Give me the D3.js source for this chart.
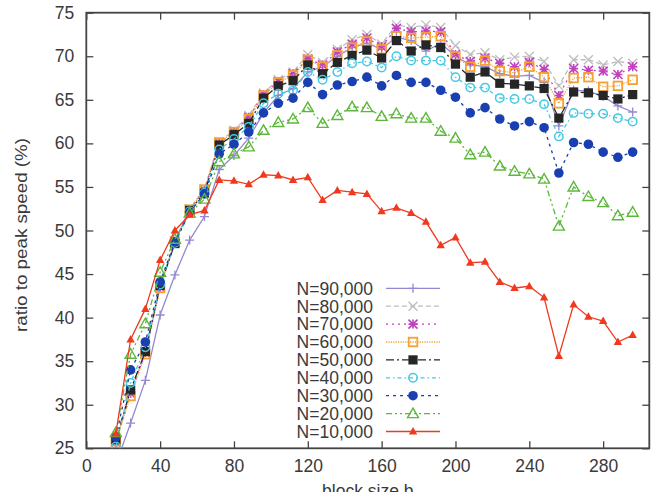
<!DOCTYPE html>
<html><head><meta charset="utf-8">
<script src="https://cdn.jsdelivr.net/npm/d3@7"></script>
<style>body{margin:0;background:#fff}svg{display:block}</style>
</head><body>
<svg id="c" width="664" height="492"></svg>
<script>
const blockSizes = [16,24,32,40,48,56,64,72,80,88,96,104,112,120,128,136,144,152,160,168,176,184,192,200,208,216,224,232,240,248,256,264,272,280,288,296];
const seriesNames = ["N=90,000","N=80,000","N=70,000","N=60,000","N=50,000","N=40,000","N=30,000","N=20,000","N=10,000"];
const n90000 = [23.1,27.9,32.8,40.3,44.9,48.9,51.6,57.0,58.6,60.6,63.5,65.5,66.3,68.2,68.8,70.0,71.0,71.5,70.8,72.2,71.8,70.6,71.5,70.0,69.0,68.8,68.0,67.7,67.8,67.0,62.0,66.1,66.0,65.4,64.3,63.6];
const n80000 = [25.8,31.5,36.0,43.6,48.8,52.5,54.8,60.2,61.5,63.2,65.8,67.3,68.2,70.2,69.3,70.8,71.9,72.5,71.4,73.6,73.3,73.6,73.3,71.2,70.2,70.4,69.6,69.9,70.0,69.4,66.6,69.6,69.6,69.0,69.4,69.2];
const n70000 = [25.7,31.3,36.0,43.5,48.7,52.4,54.6,60.0,61.3,63.0,65.6,67.1,68.0,69.7,69.0,70.5,71.4,72.1,71.1,73.2,72.8,72.9,72.8,70.2,69.4,69.8,69.2,68.8,69.3,68.5,65.5,68.6,68.4,68.3,67.9,68.8];
const n60000 = [25.8,31.0,35.8,43.4,48.7,52.4,54.7,60.1,61.3,62.8,65.5,67.0,67.8,69.6,68.8,70.1,71.0,71.7,70.8,72.3,72.1,72.2,72.3,70.0,68.8,69.5,68.3,68.1,68.8,67.6,64.6,67.5,67.6,66.5,66.6,67.3];
const n50000 = [26.0,31.7,36.1,43.7,48.5,52.3,54.3,59.8,61.0,62.3,65.2,66.6,67.2,69.0,68.0,69.3,70.1,70.7,69.8,71.8,70.6,71.3,71.0,69.1,67.6,68.2,66.9,66.8,66.6,66.3,62.9,65.9,65.8,65.5,65.1,65.6];
const n40000 = [25.2,32.5,36.6,43.8,48.6,52.2,54.3,59.3,60.5,61.9,64.6,65.7,66.1,68.2,67.3,68.2,69.2,69.4,68.7,70.0,69.5,69.5,69.5,67.6,66.4,66.4,65.2,65.1,65.1,64.5,60.8,63.5,63.4,63.4,62.9,62.5];
const n30000 = [26.3,34.0,37.2,44.1,48.7,52.1,54.2,58.8,59.9,61.3,63.5,64.6,65.2,67.0,65.6,66.7,67.1,67.6,66.6,67.8,67.0,67.0,66.1,65.3,63.5,64.1,62.8,62.0,62.5,61.8,56.6,60.1,59.9,59.0,58.4,59.0];
const n20000 = [26.8,35.8,39.3,45.2,49.0,52.0,53.6,57.9,58.8,59.6,61.5,62.4,62.8,64.1,62.3,63.2,64.2,64.1,63.1,63.4,62.9,62.9,61.4,60.6,58.7,59.0,57.4,56.8,56.5,55.9,50.5,55.0,53.9,53.2,51.7,52.1];
const n10000 = [26.7,37.5,41.0,46.6,50.0,51.8,52.3,55.8,55.7,55.3,56.4,56.3,55.8,56.1,53.5,54.6,54.4,54.2,52.2,52.6,52.0,51.0,48.3,49.2,46.3,46.4,44.1,43.4,43.6,42.3,35.6,41.5,40.1,39.6,37.2,38.0];
const xTicks = [0,40,80,120,160,200,240,280];
const yTicks = [25,30,35,40,45,50,55,60,65,70,75];
const xTitle = "block size b";
const yTitle = "ratio to peak speed (%)";

const values = [n90000,n80000,n70000,n60000,n50000,n40000,n30000,n20000,n10000];
const styles = [
  {color:"#9488d0", dash:null, marker:"plus"},
  {color:"#bdbdbd", dash:"5,3", marker:"cross"},
  {color:"#c040c0", dash:"2,4", marker:"star"},
  {color:"#f5a030", dash:"1.2,1.2", marker:"osquare"},
  {color:"#262626", dash:"8,3,2,3", marker:"fsquare"},
  {color:"#45c8e2", dash:"4,3,1.5,3", marker:"ocircle"},
  {color:"#1a3fb0", dash:"3,4", marker:"fcircle"},
  {color:"#5cb83a", dash:"6,3,2,3,2,3", marker:"otri"},
  {color:"#f03a20", dash:null, marker:"ftri"}
];

const L=86.3, R=649.3, T=12.7, B=448.3;
const svg = d3.select("#c");
const x = d3.scaleLinear().domain([0,305]).range([L,R]);
const y = d3.scaleLinear().domain([25,75]).range([B,T]);

svg.append("defs").append("clipPath").attr("id","clip")
  .append("rect").attr("x",L).attr("y",T).attr("width",R-L).attr("height",B-T);

const font = "'Liberation Sans', Arial, sans-serif";
// axes with inner ticks
const ax = svg.append("g");
ax.append("g").attr("transform",`translate(0,${B})`)
  .call(d3.axisBottom(x).tickValues(xTicks).tickSize(-7).tickPadding(11).tickFormat(d3.format("d")));
ax.append("g").attr("transform",`translate(0,${T})`)
  .call(d3.axisTop(x).tickValues(xTicks).tickSize(-7).tickFormat(""));
ax.append("g").attr("transform",`translate(${L},0)`)
  .call(d3.axisLeft(y).tickValues(yTicks).tickSize(-7).tickPadding(12).tickFormat(d3.format("d")));
ax.append("g").attr("transform",`translate(${R},0)`)
  .call(d3.axisRight(y).tickValues(yTicks).tickSize(-7).tickFormat(""));
ax.selectAll(".domain").remove();
ax.selectAll(".tick line").attr("stroke","#444").attr("stroke-width",1.3);
ax.selectAll(".tick text").attr("fill","#3a3a3a").attr("font-family",font).attr("font-size",17.5);
svg.append("rect").attr("x",L).attr("y",T).attr("width",R-L).attr("height",B-T)
  .attr("fill","none").attr("stroke","#444").attr("stroke-width",1.8);

svg.append("text").attr("x",(L+R)/2).attr("y",497).attr("text-anchor","middle")
  .attr("font-family",font).attr("font-size",17.5).attr("fill","#3a3a3a").text(xTitle);
svg.append("text").attr("transform","translate(26.5,235) rotate(-90)").attr("text-anchor","middle")
  .attr("font-family",font).attr("font-size",16).attr("fill","#3a3a3a")
  .attr("textLength",194).attr("lengthAdjust","spacingAndGlyphs").text(yTitle);

function drawMarker(g, type, color, cx, cy){
  const s=4.5;
  if(type==="plus"){
    g.append("path").attr("d",`M${cx-s},${cy}H${cx+s}M${cx},${cy-s}V${cy+s}`).attr("stroke",color).attr("stroke-width",1.3).attr("fill","none");
  } else if(type==="cross"){
    g.append("path").attr("d",`M${cx-s},${cy-s}L${cx+s},${cy+s}M${cx-s},${cy+s}L${cx+s},${cy-s}`).attr("stroke",color).attr("stroke-width",1.3).attr("fill","none");
  } else if(type==="star"){
    g.append("path").attr("d",`M${cx-s},${cy-s}L${cx+s},${cy+s}M${cx-s},${cy+s}L${cx+s},${cy-s}M${cx-s},${cy}H${cx+s}M${cx},${cy-s}V${cy+s}`).attr("stroke",color).attr("stroke-width",1.6).attr("fill","none");
  } else if(type==="osquare"){
    g.append("rect").attr("x",cx-4.3).attr("y",cy-4.3).attr("width",8.6).attr("height",8.6).attr("fill","none").attr("stroke",color).attr("stroke-width",1.8);
  } else if(type==="fsquare"){
    g.append("rect").attr("x",cx-4.6).attr("y",cy-4.6).attr("width",9.2).attr("height",9.2).attr("fill",color);
  } else if(type==="ocircle"){
    g.append("circle").attr("cx",cx).attr("cy",cy).attr("r",4.2).attr("fill","none").attr("stroke",color).attr("stroke-width",1.5);
  } else if(type==="fcircle"){
    g.append("circle").attr("cx",cx).attr("cy",cy).attr("r",4.8).attr("fill",color);
  } else if(type==="otri"){
    g.append("path").attr("d",`M${cx},${cy-5.5}L${cx+5.5},${cy+4}L${cx-5.5},${cy+4}Z`).attr("fill","none").attr("stroke",color).attr("stroke-width",1.4);
  } else if(type==="ftri"){
    g.append("path").attr("d",`M${cx},${cy-4.5}L${cx+4.2},${cy+3}L${cx-4.2},${cy+3}Z`).attr("fill",color);
  }
}

const plot = svg.append("g").attr("clip-path","url(#clip)");
const line = d3.line().x((d,i)=>x(blockSizes[i])).y(d=>y(d));
values.forEach((vals,k)=>{
  const st = styles[k];
  const g = plot.append("g");
  g.append("path").datum(vals).attr("d",line).attr("fill","none")
    .attr("stroke",st.color).attr("stroke-width",1.3)
    .attr("stroke-dasharray",st.dash);
  vals.forEach((v,i)=>drawMarker(g, st.marker, st.color, x(blockSizes[i]), y(v)));
});

// legend
const lg = svg.append("g");
seriesNames.forEach((name,k)=>{
  const cy = 288.3 + k*17.9;
  const st = styles[k];
  lg.append("text").attr("x",373).attr("y",cy+6.3).attr("text-anchor","end")
    .attr("font-family",font).attr("font-size",17.5).attr("fill","#3a3a3a").text(name);
  lg.append("line").attr("x1",386).attr("x2",440).attr("y1",cy).attr("y2",cy)
    .attr("stroke",st.color).attr("stroke-width",1.3).attr("stroke-dasharray",st.dash);
  drawMarker(lg, st.marker, st.color, 413, cy);
});
</script>
</body></html>
